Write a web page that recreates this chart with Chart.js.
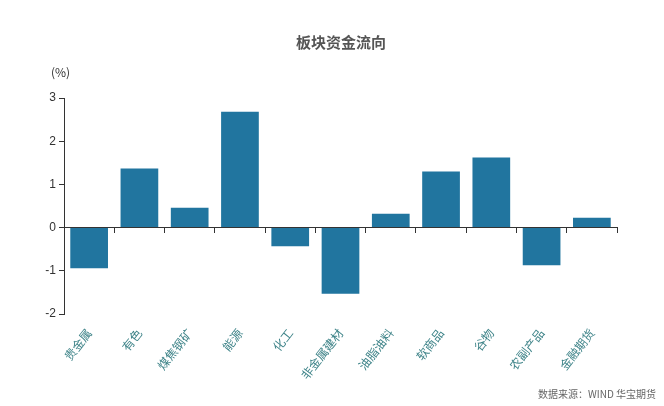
<!DOCTYPE html>
<html lang="zh">
<head>
  <meta charset="UTF-8">
  <title>板块资金流向</title>
  <script src="https://cdn.jsdelivr.net/npm/chart.js"></script>
  <style>
    body { margin: 0; background: #fff; font-family: 'Noto Sans CJK SC', sans-serif; }
    .wrap { position: relative; width: 664px; height: 406px; }
    .title { position: absolute; top: 31px; left: 0; width: 682px; text-align: center; font-size: 15px; font-weight: bold; color: #555; }
    .unit { position: absolute; top: 63px; left: 51px; font-size: 12px; color: #333; }
    .source { position: absolute; top: 386px; right: 8px; font-size: 10px; color: #666; }
  </style>
</head>
<body>
  <div class="wrap">
    <canvas id="flowChart" width="664" height="406"></canvas>
    <div class="title">板块资金流向</div>
    <div class="unit">(%)</div>
    <div class="source">数据来源：WIND 华宝期货</div>
  </div>

  <script>
    const sectors = ['贵金属', '有色', '煤焦钢矿', '能源', '化工', '非金属建材', '油脂油料', '软商品', '谷物', '农副产品', '金融期货'];
    const flows = [-0.94, 1.37, 0.46, 2.68, -0.43, -1.53, 0.32, 1.30, 1.62, -0.87, 0.23];

    const ctx = document.getElementById('flowChart').getContext('2d');
    new Chart(ctx, {
      type: 'bar',
      data: {
        labels: sectors,
        datasets: [{
          data: flows,
          backgroundColor: '#21759f',
          categoryPercentage: 1,
          barPercentage: 0.75
        }]
      },
      options: {
        responsive: false,
        animation: false,
        layout: { padding: { left: 0, right: 47, top: 98, bottom: 0 } },
        plugins: { legend: { display: false }, title: { display: false }, tooltip: { enabled: false } },
        scales: {
          y: {
            min: -2,
            max: 3,
            afterFit: s => { s.width = 64; },
            ticks: { stepSize: 1, color: '#333', font: { size: 12, family: 'Liberation Sans' }, padding: 3 },
            grid: { drawOnChartArea: false, tickLength: 5, color: '#333' },
            border: { color: '#333' }
          },
          x: {
            afterFit: s => { s.height = 92; },
            ticks: {
              color: '#3f8489',
              font: { size: 12, family: 'Noto Sans CJK SC' },
              minRotation: 52,
              maxRotation: 52,
              autoSkip: false,
              padding: 4
            },
            grid: { display: false },
            border: { display: false }
          },
          x0: {
            position: { y: 0 },
            ticks: { display: false },
            grid: { offset: true, drawOnChartArea: false, tickLength: 5, color: '#333' },
            border: { color: '#333' }
          }
        }
      }
    });
  </script>
</body>
</html>
